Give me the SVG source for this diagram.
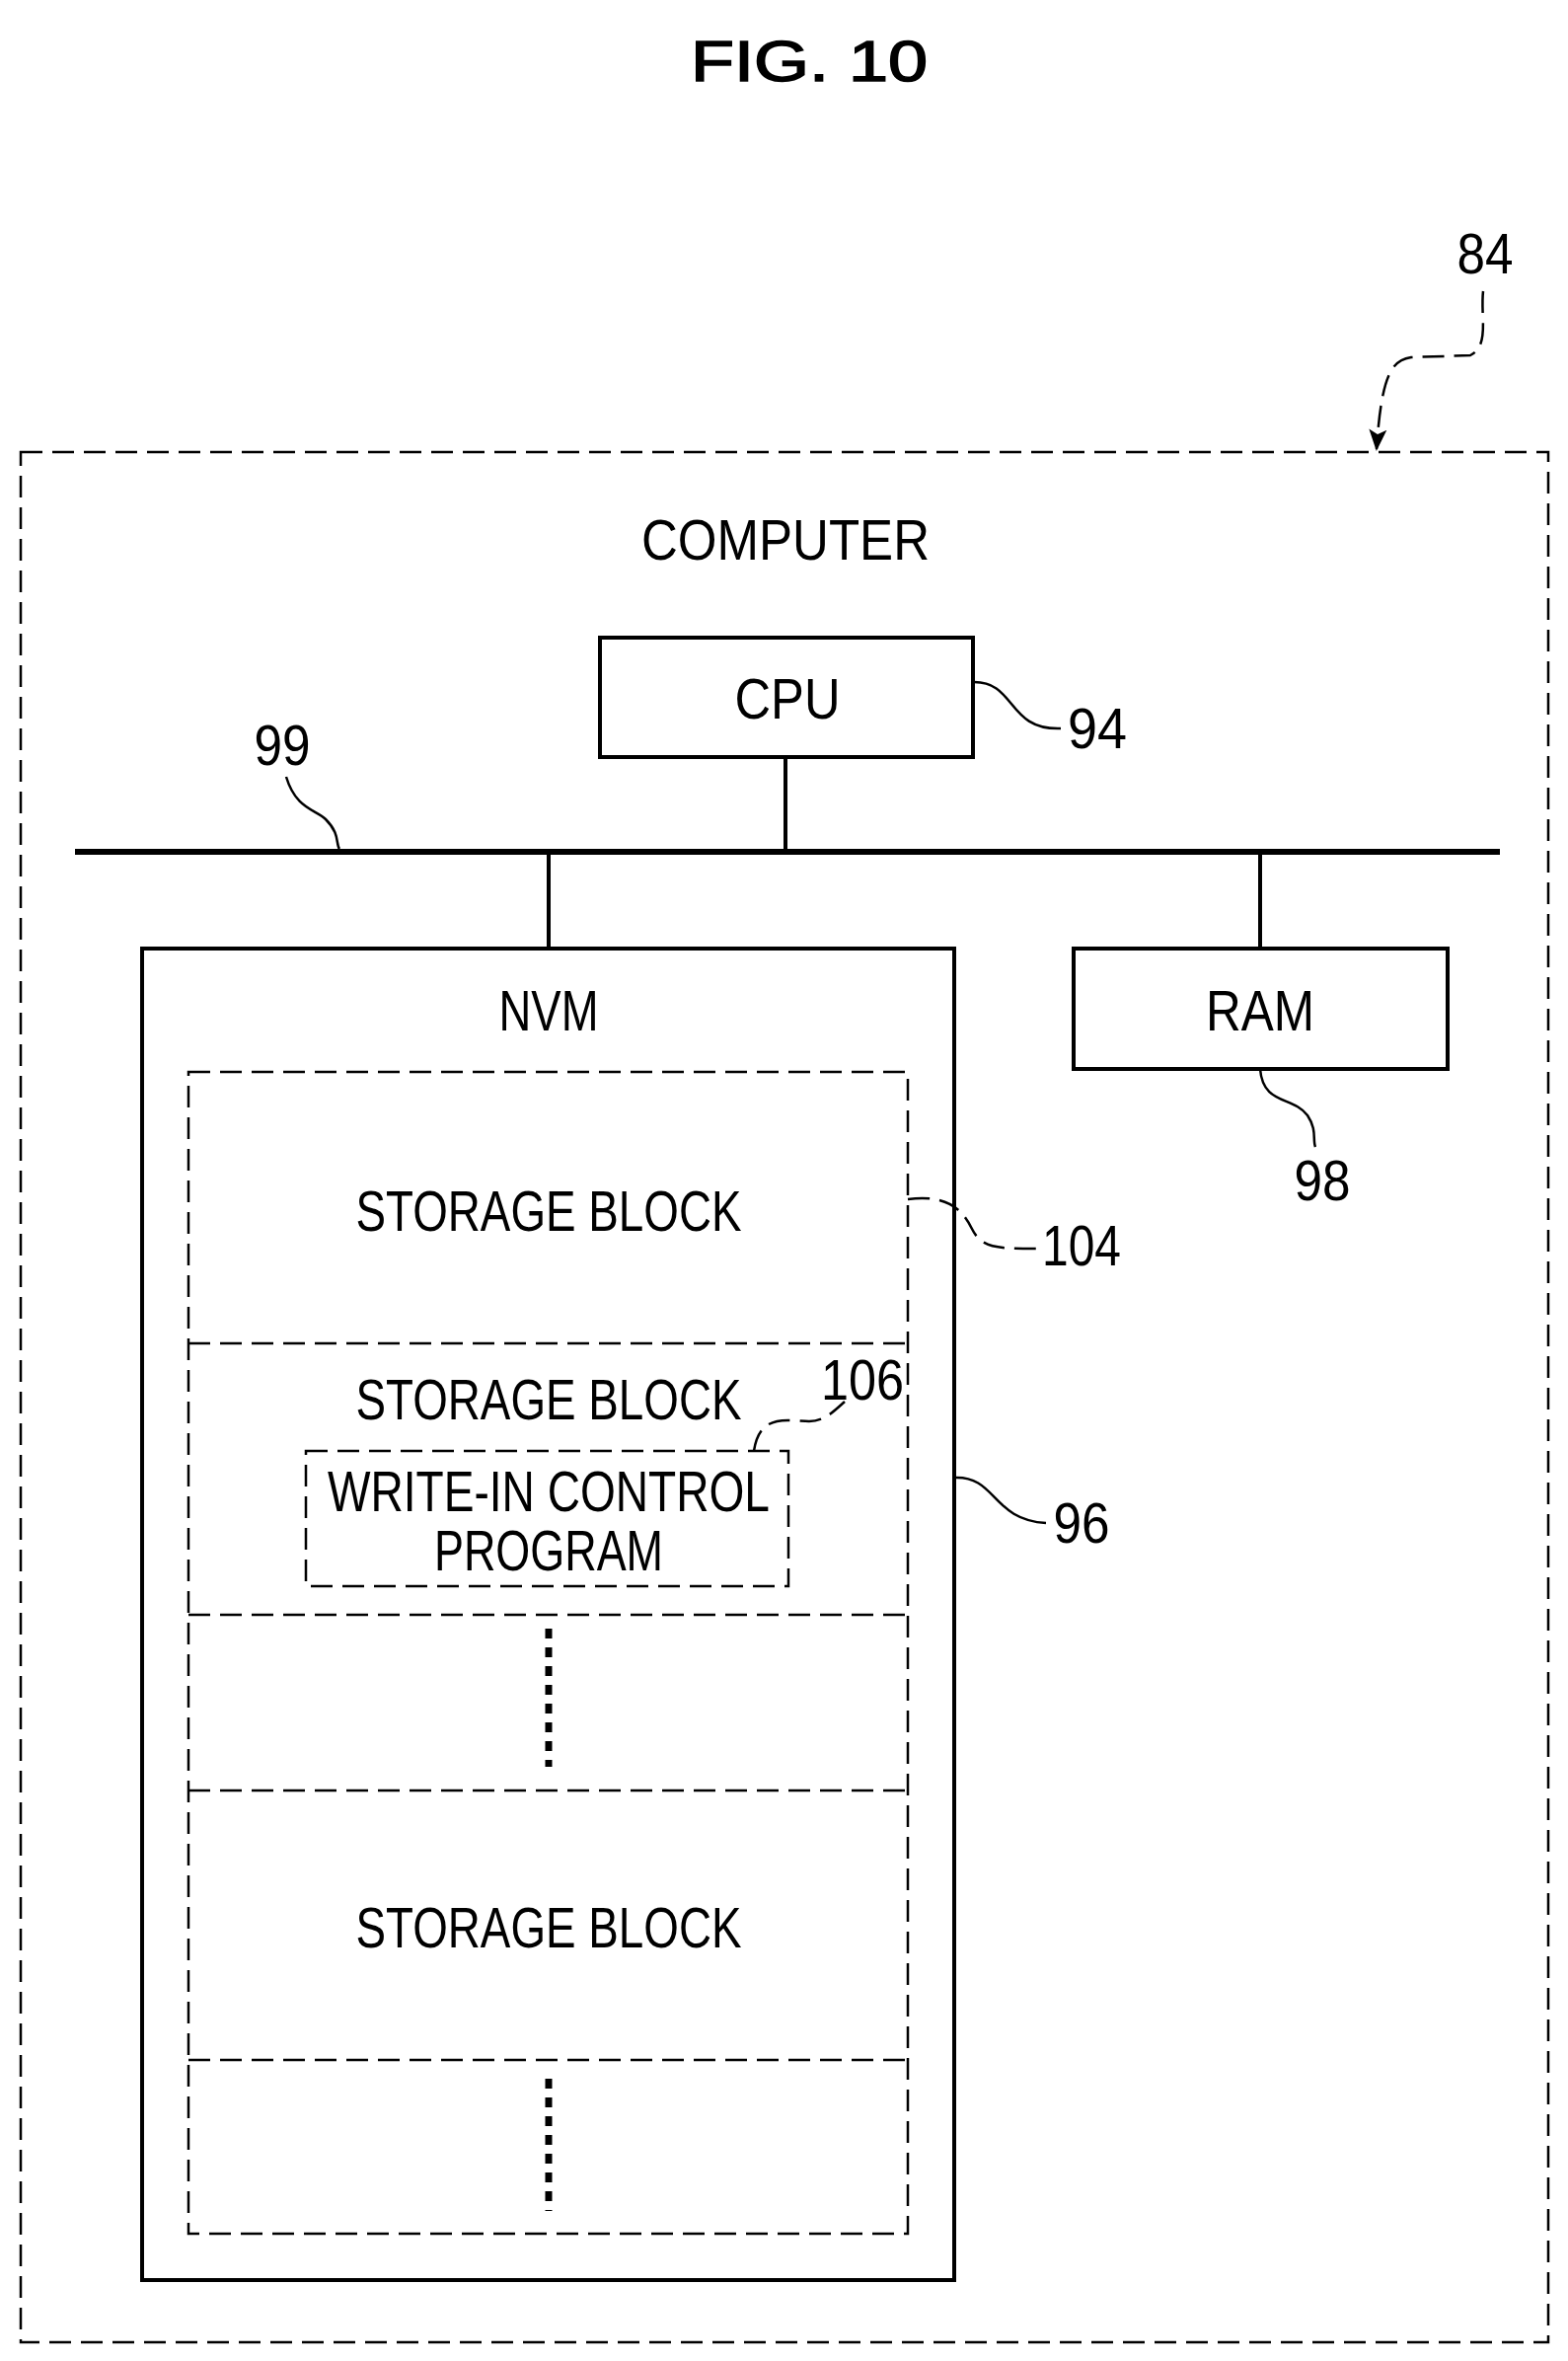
<svg xmlns="http://www.w3.org/2000/svg" width="1589" height="2392" viewBox="0 0 1589 2392">
<style>
text{font-family:"Liberation Sans",Arial,sans-serif;font-size:58px;fill:#000;text-anchor:middle}
.s{fill:none;stroke:#000;stroke-width:4}
.d{fill:none;stroke:#000;stroke-width:2.5;stroke-dasharray:22 10}
.l{fill:none;stroke:#000;stroke-width:2.5}
</style>
<defs><marker id="a" markerWidth="22" markerHeight="22" refX="20" refY="11" orient="auto" markerUnits="userSpaceOnUse" viewBox="0 0 22 22"><path d="M0,2L22,11L0,20L5,11z"/></marker></defs>
<text x="820" y="82" font-size="68" textLength="240" lengthAdjust="spacingAndGlyphs" stroke="#000" stroke-width="1.5">FIG. 10</text>
<g id="computer">
<rect x="21" y="458" width="1548" height="1915" class="d"/>
<text x="796" y="567" textLength="292" lengthAdjust="spacingAndGlyphs">COMPUTER</text>
</g>
<g id="cpu"><rect x="608" y="646" width="378" height="121" class="s"/><text x="798" y="728" textLength="107" lengthAdjust="spacingAndGlyphs">CPU</text></g>
<g id="ram"><rect x="1088" y="961" width="379" height="122" class="s"/><text x="1277" y="1044" textLength="110" lengthAdjust="spacingAndGlyphs">RAM</text></g>
<g id="nvm">
<rect x="144" y="961" width="823" height="1349" class="s"/>
<text x="556" y="1044" textLength="101" lengthAdjust="spacingAndGlyphs">NVM</text>
<rect x="191" y="1086" width="729" height="1177" class="d"/>
<path d="M191 1361H920M191 1636H920M191 1814H920M191 2087H920" class="d"/>
<text x="556" y="1247" textLength="391" lengthAdjust="spacingAndGlyphs">STORAGE BLOCK</text>
<text x="556" y="1438" textLength="391" lengthAdjust="spacingAndGlyphs">STORAGE BLOCK</text>
<text x="556" y="1973" textLength="391" lengthAdjust="spacingAndGlyphs">STORAGE BLOCK</text>
<path d="M556 1650V1790M556 2106V2240" stroke="#000" stroke-width="7" stroke-dasharray="10 9" fill="none"/>
</g>
<g id="program">
<rect x="310" y="1470" width="489" height="137" class="d"/>
<text x="556" y="1531" font-size="54" textLength="448" lengthAdjust="spacingAndGlyphs">WRITE-IN CONTROL</text>
<text x="556" y="1591" font-size="54" textLength="232" lengthAdjust="spacingAndGlyphs">PROGRAM</text>
</g>
<g id="connectors">
<path d="M76 863H1520" stroke="#000" stroke-width="6"/>
<path d="M796 767V863M556 863V961M1277 863V961" class="s"/>
<path d="M1503 295C1500 320 1510 350 1490 360L1430 362C1410 365 1400 380 1395 455" class="d" marker-end="url(#a)"/>
<path d="M986 691C1030 690 1020 740 1075 738" class="l"/>
<path d="M290 787C300 820 320 820 330 830C345 845 340 855 344 860" class="l"/>
<path d="M1277 1083C1280 1120 1310 1110 1325 1130C1335 1145 1330 1155 1333 1162" class="l"/>
<path d="M920 1215C960 1210 975 1225 985 1245C995 1265 1010 1265 1054 1265" class="d"/>
<path d="M967 1497C1010 1495 1005 1540 1060 1543" class="l"/>
<path d="M764 1470C770 1430 800 1440 820 1440C835 1440 845 1430 856 1420" class="d"/>
</g>
<g id="labels">
<text x="1505" y="277" textLength="57" lengthAdjust="spacingAndGlyphs">84</text>
<text x="1112" y="758" textLength="60" lengthAdjust="spacingAndGlyphs">94</text>
<text x="286" y="775" textLength="57" lengthAdjust="spacingAndGlyphs">99</text>
<text x="1340" y="1216" textLength="57" lengthAdjust="spacingAndGlyphs">98</text>
<text x="1096" y="1282" textLength="80" lengthAdjust="spacingAndGlyphs">104</text>
<text x="874" y="1418" textLength="84" lengthAdjust="spacingAndGlyphs">106</text>
<text x="1096" y="1563" textLength="57" lengthAdjust="spacingAndGlyphs">96</text>
</g>
</svg>
